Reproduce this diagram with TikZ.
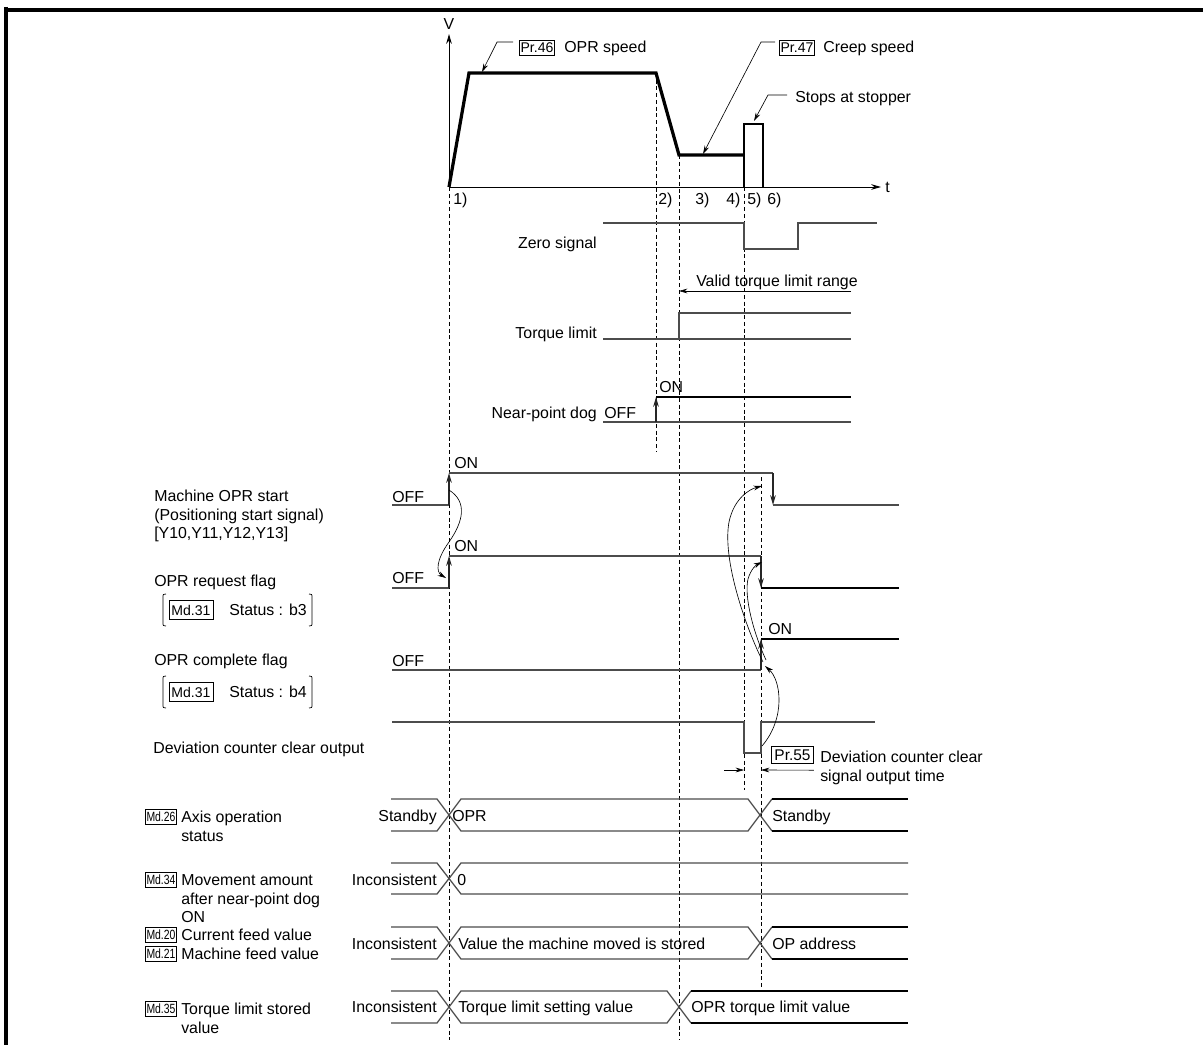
\documentclass[tikz,border=0pt]{standalone}
\usepackage{fontspec}
\setmainfont{Liberation Sans}
\newfontfamily\tagfont[FakeStretch=0.78]{Liberation Sans}
\usetikzlibrary{arrows.meta}

\begin{document}
\begin{tikzpicture}[x=0.025cm,y=-0.025cm,>={Stealth[length=7pt,width=4pt]},
    font=\fontsize{11.3}{13}\selectfont,
    txt/.style={inner sep=0pt,text height=8.1pt,text depth=0pt},
    sig/.style={line width=0.9pt,black!70},
    edge/.style={line width=0.9pt,black!85,->},
    sigon/.style={line width=1.6pt,black},
    guide/.style={line width=0.6pt,dash pattern=on 2.8pt off 2pt},
    lead/.style={line width=0.45pt,-{Stealth[length=6pt,width=3.4pt]}},
    cause/.style={line width=0.45pt,-{Stealth[length=6pt,width=3.4pt]}},
    brk/.style={line width=0.5pt},
    prtag/.style={draw,line width=0.6pt,inner xsep=0.8pt,inner ysep=1.6pt,font=\fontsize{10}{11}\selectfont},
    prbig/.style={draw,line width=0.6pt,inner xsep=2pt,inner ysep=2.4pt,font=\fontsize{11}{12}\selectfont},
    mdbig/.style={draw,line width=0.6pt,inner xsep=1.8pt,inner ysep=3pt,font=\fontsize{10}{11}\selectfont},
    mdtag/.style={draw,line width=0.6pt,inner xsep=0.6pt,inner ysep=2pt,font={\tagfont\fontsize{9.5}{10}\selectfont}}]
    \useasboundingbox (0,0) rectangle (1203,1045);

    % page frame
    \draw[line width=2.9pt] (4,10) -- (1203,10);
    \draw[line width=2.9pt] (6,7) -- (6,1045);

    % speed chart
    \coordinate (o) at (449,187);
    \draw[->,line width=0.7pt] (o) -- (449,34);
    \draw[->,line width=0.7pt] (o) -- (881,187);
    \node[txt] (vlab) at (449,24) {V};
    \node[txt,anchor=west] (tlab) at (885,187) {t};
    \draw[line width=2.3pt] (o) -- (469,73) -- (656,73) -- (679,155) -- (744,155);
    \draw[line width=1.2pt] (744,187) -- (744,124) -- (763,124) -- (763,187);
    \foreach \i/\x in {1/453,2/658,3/695,4/726,5/747,6/767}{
        \node[txt,anchor=west] (pt\i) at (\x,199) {\i)};
    }

    \node[prtag] (p46) at (537,48) {Pr.46};
    \node[txt,anchor=west] (s46) at (564,47) {OPR speed};
    \coordinate (c46) at (482,72);
    \draw[lead] (p46.west) ++(-6,-6) -- ++(-16,0) -- (c46);

    \node[prtag] (p47) at (797,48) {Pr.47};
    \node[txt,anchor=west] (s47) at (823,47) {Creep speed};
    \coordinate (c47) at (703,154);
    \draw[lead] (p47.west) ++(-4,-6) -- ++(-14,0) -- (c47);

    \node[txt,anchor=west] (stop) at (795,97) {Stops at stopper};
    \coordinate (cstop) at (754,121);
    \draw[lead] (stop.west) ++(-8,-2) -- ++(-19,0) -- (cstop);

    % guide lines
    \draw[guide] (449,187) -- (449,1040);
    \draw[guide] (656,73) -- (656,452);
    \draw[guide] (679,155) -- (679,1040);
    \draw[guide] (744,187) -- (744,790);
    \draw[guide] (761,477) -- (761,987);

    % zero signal, torque limit, near-point dog
    \node[txt,anchor=east] (zs) at (597,243) {Zero signal};
    \draw[sig] (603,223) -- (744,223) -- (744,249) -- (798,249) -- (798,223) -- (877,223);

    \node[txt,anchor=west] (vt) at (696,281) {Valid torque limit range};
    \coordinate (vtend) at (851,291);
    \draw[lead] (vtend) -- (679,291);

    \node[txt,anchor=east] (tq) at (597,333) {Torque limit};
    \draw[sig] (603,339) -- (851,339);
    \draw[sig] (679,339) -- (679,313) -- (851,313);

    \node[txt,anchor=east] (npd) at (597,413) {Near-point dog};
    \node[txt,anchor=west] (npoff) at (604,413) {OFF};
    \node[txt,anchor=west] (npon) at (659,387) {ON};
    \draw[sig] (603,422) -- (851,422);
    \draw[edge] (656,422) -- (656,397);
    \draw[sigon] (656,397) -- (851,397);

    % start / request / complete / clear
    \node[txt,anchor=west] (mos1) at (154,496) {Machine OPR start};
    \node[txt,anchor=west] (mos2) at (154,515) {(Positioning start signal)};
    \node[txt,anchor=west] (mos3) at (154,533) {[Y10,Y11,Y12,Y13]};
    \node[txt,anchor=west] (mosoff) at (392,497) {OFF};
    \node[txt,anchor=west] (moson) at (454,463) {ON};
    \draw[sig] (392,505) -- (449,505);
    \draw[edge] (449,505) -- (449,473);
    \draw[sig] (449,473) -- (773,473);
    \draw[edge] (773,473) -- (773,505);
    \draw[sig] (773,505) -- (899,505);

    \node[txt,anchor=west] (rqf) at (154,581) {OPR request flag};
    \node[mdbig] (md31a) at (191,610) {Md.31};
    \node[txt,anchor=west] (st3) at (229,610) {Status : b3};
    \draw[brk] (166,594) .. controls (163,594) .. (163,598) -- (163,622) .. controls (163,626) .. (166,626);
    \draw[brk] (309,594) .. controls (312,594) .. (312,598) -- (312,622) .. controls (312,626) .. (309,626);
    \node[txt,anchor=west] (rqoff) at (392,578) {OFF};
    \node[txt,anchor=west] (rqon) at (454,546) {ON};
    \draw[sig] (392,588) -- (449,588);
    \draw[edge] (449,588) -- (449,556);
    \draw[sig] (449,556) -- (761,556);
    \draw[edge] (761,556) -- (761,588);
    \draw[sigon] (761,588) -- (899,588);

    \node[txt,anchor=west] (cpf) at (154,660) {OPR complete flag};
    \node[mdbig] (md31b) at (191,692) {Md.31};
    \node[txt,anchor=west] (st4) at (229,692) {Status : b4};
    \draw[brk] (166,676) .. controls (163,676) .. (163,680) -- (163,704) .. controls (163,708) .. (166,708);
    \draw[brk] (309,676) .. controls (312,676) .. (312,680) -- (312,704) .. controls (312,708) .. (309,708);
    \node[txt,anchor=west] (cpoff) at (392,661) {OFF};
    \node[txt,anchor=west] (cpon) at (768,629) {ON};
    \draw[sig] (392,670) -- (761,670);
    \draw[edge] (761,670) -- (761,639);
    \draw[sigon] (761,639) -- (899,639);

    \node[txt,anchor=west] (dcc) at (153,748) {Deviation counter clear output};
    \draw[sig] (392,722) -- (744,722) -- (744,753) -- (761,753) -- (761,722) -- (875,722);

    \node[prbig] (p55) at (792.5,755) {Pr.55};
    \node[txt,anchor=west] (dc1) at (820,757) {Deviation counter clear};
    \node[txt,anchor=west] (dc2) at (820,776) {signal output time};
    \coordinate (dimtail) at (724,770);
    \draw[lead] (dimtail) -- (744,770);
    \draw[lead] (p55.south east) ++(0,6) -- (761,770);

    % cause arrows
    \draw[cause] (449,490) .. controls (468,502) and (463,522) .. (449,542)
        .. controls (436,560) and (436,572) .. (446,578);
    \draw[cause] (763,662) .. controls (746,628) and (722,560) .. (729,522)
        .. controls (734,498) and (750,489) .. (762,486);
    \draw[cause] (766,660) .. controls (753,632) and (744,596) .. (748,579)
        .. controls (751,569) and (756,565) .. (762,562);
    \draw[cause] (762,746) .. controls (786,718) and (781,680) .. (765,666);

    % monitor rows
    \node[mdtag] (md26) at (161,817) {Md.26};
    \node[txt,anchor=west] (ax1) at (181,817) {Axis operation};
    \node[txt,anchor=west] (ax2) at (181,836) {status};
    \node[txt,anchor=east] (sb1) at (437,816) {Standby};
    \node[txt,anchor=west] (opr) at (452,816) {OPR};
    \node[txt,anchor=west] (sb2) at (772,816) {Standby};
    \draw[sig] (391,799) -- (437,799) -- (461,831) -- (748,831) -- (772,799);
    \draw[sig] (391,831) -- (437,831) -- (461,799) -- (748,799) -- (772,831);
    \draw[sigon] (772,799) -- (908,799);
    \draw[sigon] (772,831) -- (908,831);

    \node[mdtag] (md34) at (161,880) {Md.34};
    \node[txt,anchor=west] (mv1) at (181,880) {Movement amount};
    \node[txt,anchor=west] (mv2) at (181,899) {after near-point dog};
    \node[txt,anchor=west] (mv3) at (181,917) {ON};
    \node[txt,anchor=east] (inc1) at (437,880) {Inconsistent};
    \node[txt,anchor=west] (zero) at (457,880) {0};
    \draw[sig] (391,863) -- (437,863) -- (461,894) -- (908,894);
    \draw[sig] (391,894) -- (437,894) -- (461,863) -- (908,863);

    \node[mdtag] (md20) at (161,935) {Md.20};
    \node[txt,anchor=west] (cf) at (181,935) {Current feed value};
    \node[mdtag] (md21) at (161,954) {Md.21};
    \node[txt,anchor=west] (mf) at (181,954) {Machine feed value};
    \node[txt,anchor=east] (inc2) at (437,944) {Inconsistent};
    \node[txt,anchor=west] (val) at (458,944) {Value the machine moved is stored};
    \node[txt,anchor=west] (opa) at (772,944) {OP address};
    \draw[sig] (391,927) -- (437,927) -- (461,959) -- (748,959) -- (772,927);
    \draw[sig] (391,959) -- (437,959) -- (461,927) -- (748,927) -- (772,959);
    \draw[sigon] (772,927) -- (908,927);
    \draw[sigon] (772,959) -- (908,959);

    \node[mdtag] (md35) at (161,1009) {Md.35};
    \node[txt,anchor=west] (tl1) at (181,1009) {Torque limit stored};
    \node[txt,anchor=west] (tl2) at (181,1028) {value};
    \node[txt,anchor=east] (inc3) at (437,1007) {Inconsistent};
    \node[txt,anchor=west] (tls) at (458,1007) {Torque limit setting value};
    \node[txt,anchor=west] (otl) at (691,1007) {OPR torque limit value};
    \draw[sig] (391,991) -- (437,991) -- (461,1023) -- (667,1023) -- (691,991);
    \draw[sig] (391,1023) -- (437,1023) -- (461,991) -- (667,991) -- (691,1023);
    \draw[sigon] (691,991) -- (908,991);
    \draw[sigon] (691,1023) -- (908,1023);
\end{tikzpicture}
\end{document}
